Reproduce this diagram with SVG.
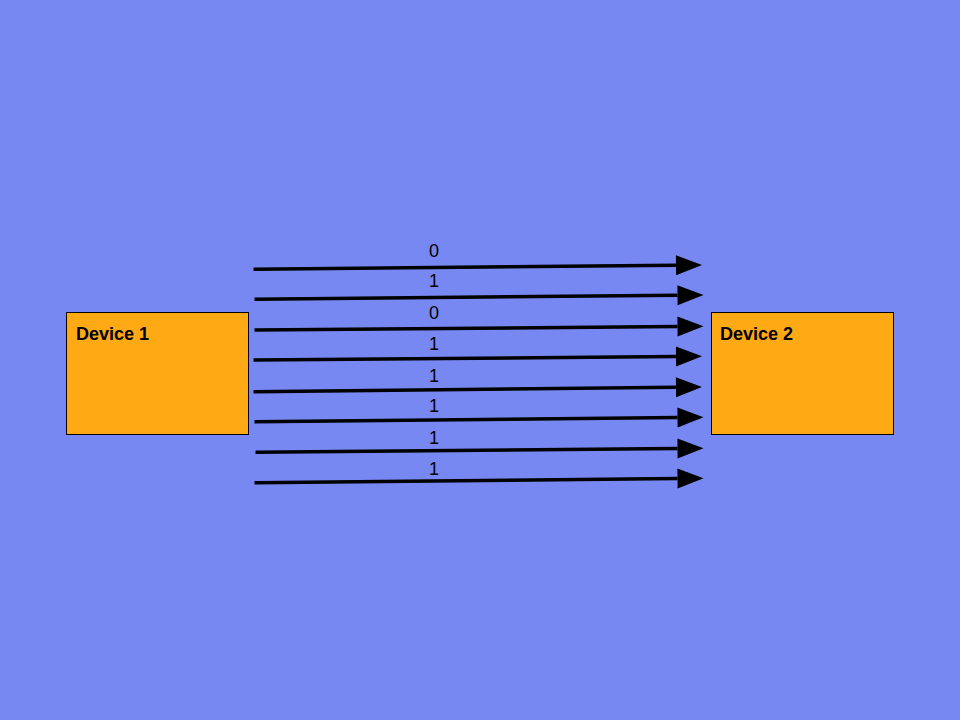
<svg xmlns="http://www.w3.org/2000/svg" width="960" height="720" viewBox="0 0 960 720">
<defs>
<style>
.node{fill:#ffa914;stroke:#000;stroke-width:1}
.nt{font-family:"Liberation Sans",Arial,sans-serif;font-size:18px;font-weight:bold;fill:#000}
.lbl{font-family:"Liberation Sans",Arial,sans-serif;font-size:18px;fill:#000;text-anchor:middle}
.ln{stroke:#000;stroke-width:3.5;fill:none;marker-end:url(#ah)}
</style>
<marker id="ah" markerUnits="userSpaceOnUse" markerWidth="27" markerHeight="20" refX="0" refY="10" orient="auto" overflow="visible">
<path d="M0,0 L26,10 L0,20 Z" fill="#000"/>
</marker>
</defs>
<rect width="960" height="720" fill="#7788f2"/>
<g id="device1">
<rect class="node" x="66.5" y="312.5" width="182" height="122"/>
<text class="nt" x="76" y="339.5">Device 1</text>
</g>
<g id="device2">
<rect class="node" x="711.5" y="312.5" width="182" height="122"/>
<text class="nt" x="720" y="339.5">Device 2</text>
</g>
<g id="connectors">
<line class="ln" x1="253.5" y1="269.3" x2="676" y2="265.25"/>
<line class="ln" x1="254.5" y1="299.3" x2="677.5" y2="295.25"/>
<line class="ln" x1="254.5" y1="330" x2="677.5" y2="326.5"/>
<line class="ln" x1="253.5" y1="360" x2="676" y2="356.5"/>
<line class="ln" x1="253.5" y1="391.7" x2="676" y2="387.3"/>
<line class="ln" x1="254.5" y1="421.7" x2="677.5" y2="417.55"/>
<line class="ln" x1="255.5" y1="452.3" x2="677.5" y2="448.55"/>
<line class="ln" x1="254.5" y1="482.7" x2="677.5" y2="478.55"/>
<text class="lbl" x="434" y="256.5">0</text>
<text class="lbl" x="434" y="286.5">1</text>
<text class="lbl" x="434" y="319">0</text>
<text class="lbl" x="434" y="349.5">1</text>
<text class="lbl" x="434" y="381.5">1</text>
<text class="lbl" x="434" y="412">1</text>
<text class="lbl" x="434" y="443.5">1</text>
<text class="lbl" x="434" y="475">1</text>
</g>
</svg>
